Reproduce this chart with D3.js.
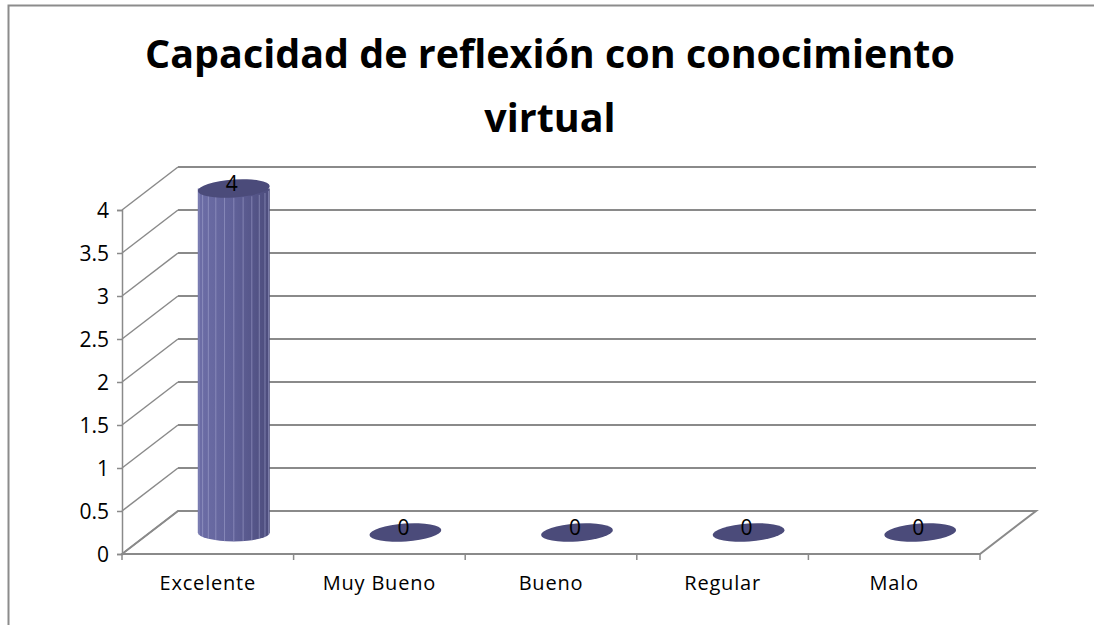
<!DOCTYPE html>
<html>
<head>
<meta charset="utf-8">
<script src="https://cdn.jsdelivr.net/npm/d3@7"></script>
<style>
  body { margin: 0; background: #fff; }
  text { font-family: "Open Sans", Lato, sans-serif; }
</style>
</head>
<body>
<svg id="chart" width="1094" height="625"></svg>
<script>
// data
var categories = ["Excelente", "Muy Bueno", "Bueno", "Regular", "Malo"];
var values = [4, 0, 0, 0, 0];
var yTicks = [0, 0.5, 1, 1.5, 2, 2.5, 3, 3.5, 4];
var titleLines = ["Capacidad de reflexión con conocimiento", "virtual"];

var W = 1094, H = 625;
var DX = 56, DY = -43;          // depth offset of the back wall
var GRID = "#8a8a8a";
var FONT = "'Open Sans', Lato, sans-serif";

var svg = d3.select("#chart");

// frame (only left and top edges are inside the picture)
svg.append("path")
	.attr("d", "M8.5," + H + "V5.5H" + (W + 2))
	.attr("fill", "none")
	.attr("stroke", "#8c8c8c")
	.attr("stroke-width", 2);

// title, sized so the first line spans about 810px
var title = svg.append("text")
	.attr("text-anchor", "middle")
	.attr("font-weight", "bold")
	.attr("font-size", 35)
	.attr("fill", "#000");
title.selectAll("tspan").data(titleLines).enter().append("tspan")
	.attr("x", 550)
	.attr("y", function(d, i) { return 68 + i * 64; })
	.text(function(d) { return d; });
var w0 = title.select("tspan").node().getComputedTextLength();
if (w0 > 0) title.attr("font-size", 35 * 810 / w0);

// scales
var x = d3.scaleBand().domain(categories).range([122, 980]);
var y = d3.scaleLinear().domain([0, 4]).range([554, 210]);

var plot = svg.append("g");

// back wall gridlines
plot.selectAll("line.grid").data(yTicks.slice(1)).enter().append("line")
	.attr("class", "grid")
	.attr("x1", 122 + DX).attr("x2", 980 + DX)
	.attr("y1", function(d) { return y(d) + DY; })
	.attr("y2", function(d) { return y(d) + DY; })
	.attr("stroke", GRID).attr("stroke-width", 2);

// side wall diagonals
plot.selectAll("line.diag").data(yTicks).enter().append("line")
	.attr("class", "diag")
	.attr("x1", 122).attr("x2", 122 + DX)
	.attr("y1", function(d) { return y(d); })
	.attr("y2", function(d) { return y(d) + DY; })
	.attr("stroke", GRID).attr("stroke-width", 1.5);

// floor
plot.append("path")
	.attr("d", "M122," + y(0) + "L" + (122 + DX) + "," + (y(0) + DY) +
		"H" + (980 + DX) + "L980," + y(0) + "Z")
	.attr("fill", "none")
	.attr("stroke", GRID).attr("stroke-width", 2);

// front y axis
var yAxis = d3.axisLeft(y).tickValues(yTicks).tickSize(5).tickPadding(8)
	.tickFormat(function(d) { return d; });
var gy = plot.append("g").attr("transform", "translate(122,0)").call(yAxis);
gy.select(".domain").attr("stroke", GRID).attr("stroke-width", 1.5);
gy.selectAll(".tick line").attr("stroke", GRID).attr("stroke-width", 1.5);
gy.selectAll(".tick text").attr("font-size", 21).attr("fill", "#000")
	.attr("dy", "0.36em")
	.style("font-family", FONT);

// x axis
var xAxis = d3.axisBottom(x).tickSize(0).tickPadding(22);
var gx = plot.append("g").attr("transform", "translate(0," + y(0) + ")").call(xAxis);
gx.select(".domain").remove();
gx.selectAll(".tick text").attr("font-size", 20).attr("fill", "#000")
	.attr("letter-spacing", 0.8)
	.style("font-family", FONT);
var edges = categories.map(function(c) { return x(c); }).concat([980]);
gx.selectAll("line.cat").data(edges).enter().append("line")
	.attr("class", "cat")
	.attr("x1", function(d) { return d; }).attr("x2", function(d) { return d; })
	.attr("y1", 0).attr("y2", 6)
	.attr("stroke", GRID).attr("stroke-width", 1.5);

// cylinders
var defs = svg.append("defs");
var grad = defs.append("linearGradient").attr("id", "cyl")
	.attr("x1", "0%").attr("x2", "100%");
grad.append("stop").attr("offset", "0%").attr("stop-color", "#6c6da6");
grad.append("stop").attr("offset", "45%").attr("stop-color", "#62639b");
grad.append("stop").attr("offset", "100%").attr("stop-color", "#4c4c7c");

var R = 36, RY = 9;
var bars = plot.selectAll("g.bar").data(values).enter().append("g").attr("class", "bar");

bars.each(function(v, i) {
	var g = d3.select(this);
	var cx = x(categories[i]) + x.bandwidth() / 2 + DX / 2 - 2;
	var yb = y(0) + DY / 2;
	var yt = y(v) + DY / 2;
	if (v > 0) {
		g.append("path")
			.attr("d", "M" + (cx - R) + "," + yt + "V" + yb +
				"A" + R + "," + RY + " 0 0 0 " + (cx + R) + "," + yb +
				"V" + yt + "Z")
			.attr("fill", "url(#cyl)");
		// facet edges
		d3.range(1, 12).forEach(function(k) {
			var fx = cx - R * Math.cos(k * Math.PI / 12);
			var fy = RY * Math.sin(k * Math.PI / 12);
			g.append("line")
				.attr("x1", fx).attr("x2", fx)
				.attr("y1", yt + fy).attr("y2", yb + fy)
				.attr("stroke", "#a4a5d0").attr("stroke-opacity", 0.55)
				.attr("stroke-width", 1);
		});
	}
	g.append("ellipse")
		.attr("cx", cx).attr("cy", yt)
		.attr("rx", R).attr("ry", RY)
		.attr("transform", "rotate(-4," + cx + "," + yt + ")")
		.attr("fill", "#4b4b7a");
	g.append("text")
		.attr("x", cx - 2).attr("y", yt + 2)
		.attr("text-anchor", "middle")
		.attr("font-size", 21)
		.attr("fill", "#000")
		.text(v);
});
</script>
</body>
</html>
